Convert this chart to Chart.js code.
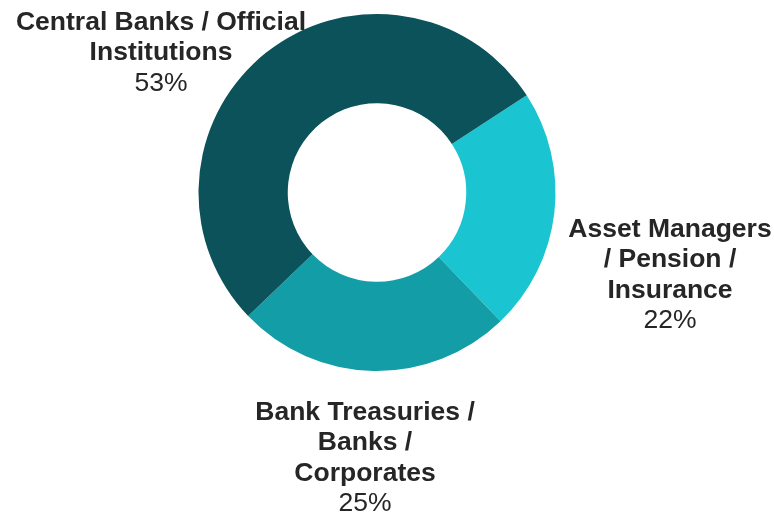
<!DOCTYPE html>
<html>
<head>
<meta charset="utf-8">
<style>
  html, body { margin: 0; padding: 0; background: #ffffff; }
  #wrap { position: relative; width: 774px; height: 513px; }
</style>
<script src="https://cdn.jsdelivr.net/npm/chart.js@4/dist/chart.umd.min.js"></script>
</head>
<body>
<div id="wrap"><canvas id="c" width="774" height="513"></canvas></div>
<script>
// Investor breakdown by type (share of total, %)
const categories = [
  'Asset Managers / Pension / Insurance',
  'Bank Treasuries / Banks / Corporates',
  'Central Banks / Official Institutions'
];
const shares = [22, 25, 53];
const sliceColors = ['#1AC4D1', '#139EA7', '#0B525A'];

// Line breaks used for each category label
const labelLines = [
  ['Asset Managers', '/ Pension /', 'Insurance'],
  ['Bank Treasuries /', 'Banks /', 'Corporates'],
  ['Central Banks / Official', 'Institutions']
];

// Centre x of each label block and the baseline of its first line
const labelAnchors = [
  { x: 670, y: 237 },
  { x: 365, y: 420 },
  { x: 161, y: 30 }
];

const sliceLabels = {
  id: 'sliceLabels',
  afterDraw(chart) {
    const ctx = chart.ctx;
    const lineH = 30.3;
    ctx.save();
    ctx.fillStyle = '#262626';
    ctx.textAlign = 'center';
    ctx.textBaseline = 'alphabetic';
    chart.data.labels.forEach((_, i) => {
      const a = labelAnchors[i];
      const lines = labelLines[i];
      ctx.font = 'bold 26.5px "Liberation Sans", Arial, sans-serif';
      lines.forEach((ln, j) => ctx.fillText(ln, a.x, a.y + j * lineH));
      ctx.font = '26.5px "Liberation Sans", Arial, sans-serif';
      ctx.fillText(chart.data.datasets[0].data[i] + '%', a.x, a.y + lines.length * lineH);
    });
    ctx.restore();
  }
};

new Chart(document.getElementById('c'), {
  type: 'doughnut',
  data: {
    labels: categories,
    datasets: [{
      data: shares,
      backgroundColor: sliceColors,
      borderWidth: 0
    }]
  },
  options: {
    responsive: false,
    animation: false,
    rotation: 57,
    cutout: '50%',
    layout: { padding: { top: 14, bottom: 142, left: 198, right: 218 } },
    plugins: {
      legend: { display: false },
      tooltip: { enabled: false }
    }
  },
  plugins: [sliceLabels]
});
</script>
</body>
</html>
